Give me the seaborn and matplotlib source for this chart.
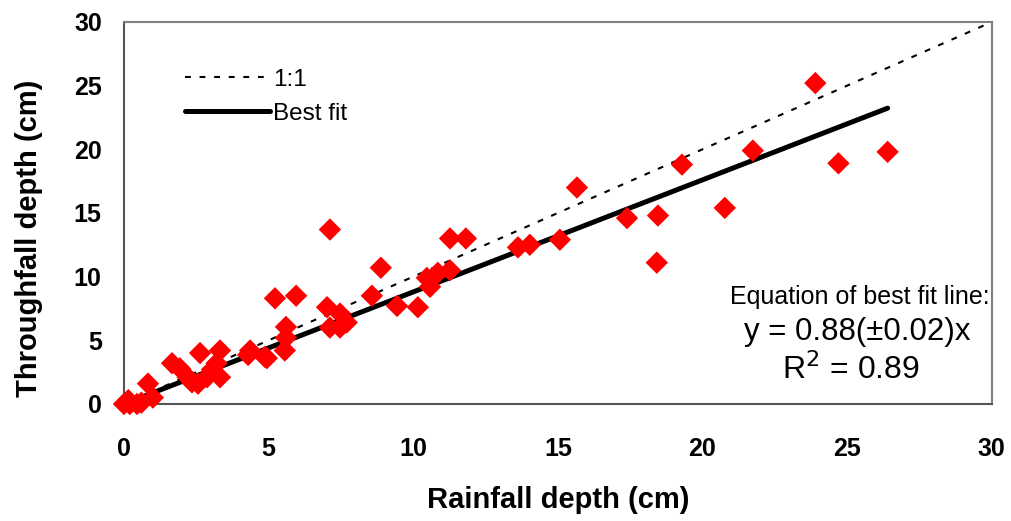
import numpy as np
import pandas as pd
import seaborn as sns
import matplotlib.pyplot as plt

# rainfall vs throughfall (cm)
rainfall = [0.0, 0.15, 0.2, 0.45, 0.6, 0.83, 1.0, 1.66, 1.93, 2.2, 2.35, 2.56, 2.63,
            2.87, 3.04, 3.2, 3.32, 3.32, 4.29, 4.36, 4.87, 4.94, 5.22, 5.56, 5.6, 5.6,
            5.95, 7.02, 7.12, 7.12, 7.47, 7.47, 7.7, 8.57, 8.88, 9.44, 10.16, 10.47,
            10.58, 10.85, 11.27, 11.27, 11.82, 13.62, 14.03, 15.07, 15.66, 17.39,
            18.42, 18.46, 19.29, 20.77, 21.74, 23.9, 24.7, 26.4]
throughfall = [0.0, 0.3, 0.0, 0.0, 0.1, 1.6, 0.5, 3.2, 2.8, 2.1, 1.7, 1.6, 4.0,
               2.1, 2.7, 3.2, 4.2, 2.1, 3.85, 4.2, 3.7, 3.6, 8.3, 4.2, 6.05, 5.2,
               8.5, 7.6, 13.7, 6.0, 7.1, 6.0, 6.4, 8.5, 10.7, 7.7, 7.6, 9.9,
               9.2, 10.3, 10.5, 13.0, 13.0, 12.3, 12.5, 12.9, 17.0, 14.6,
               11.1, 14.8, 18.8, 15.4, 19.9, 25.2, 18.9, 19.8]
slope = 0.88
fit_x = [0, 26.4]
one_x = [0, 30]

df = pd.DataFrame({'rain': rainfall, 'thru': throughfall})

sns.set_style('white')
plt.rcParams['font.family'] = ['Liberation Sans', 'DejaVu Sans']
plt.rcParams['text.color'] = 'black'
plt.rcParams['axes.labelcolor'] = 'black'
plt.rcParams['xtick.color'] = 'black'
plt.rcParams['ytick.color'] = 'black'

fig = plt.figure(figsize=(10.12, 5.21), dpi=100)
ax = fig.add_axes([0.1225, 0.2246, 0.8575, 0.7332])

ax.plot(one_x, one_x, color='black', ls=(0, (2.8, 4.2)), lw=1.5, label='1:1')
ax.plot(fit_x, [slope * v for v in fit_x], color='black', lw=3.6, label='Best fit')
sns.scatterplot(data=df, x='rain', y='thru', ax=ax, marker='D', s=130,
                color='red', edgecolor='none', zorder=3, clip_on=False)

ax.set_xlim(0, 30)
ax.set_ylim(0, 30)
ax.set_xticks(range(0, 31, 5))
ax.set_yticks(range(0, 31, 5))
ax.tick_params(direction='in', length=6, width=1, color='#555555', labelsize=18)
ax.tick_params(axis='x', pad=24)
ax.tick_params(axis='y', pad=16)
for lab in ax.get_xticklabels() + ax.get_yticklabels():
    lab.set_fontweight('bold')
for s in ax.spines.values():
    s.set_color('#808080')
    s.set_linewidth(1.5)
ax.spines['left'].set_color('#555555')
ax.spines['bottom'].set_color('#555555')

ax.set_xlabel('Rainfall depth (cm)', fontsize=21, fontweight='bold', labelpad=18)
ax.set_ylabel('Throughfall depth (cm)', fontsize=21, fontweight='bold')
ax.yaxis.set_label_coords(-0.0936, 0.435)

ax.legend(loc='upper left', bbox_to_anchor=(0.0455, 0.935), frameon=False,
          fontsize=17.5, handlelength=3.5, handletextpad=0.1, labelspacing=0.5)

ax.text(0.848, 0.28, 'Equation of best fit line:', transform=ax.transAxes,
        ha='center', va='center', fontsize=18)
ax.text(0.8445, 0.188, 'y = 0.88(\u00b10.02)x', transform=ax.transAxes,
        ha='center', va='center', fontsize=22.5)
ax.text(0.8376, 0.089, 'R$^2$ = 0.89', transform=ax.transAxes,
        ha='center', va='center', fontsize=23)

fig.savefig('out.png', dpi=100)
